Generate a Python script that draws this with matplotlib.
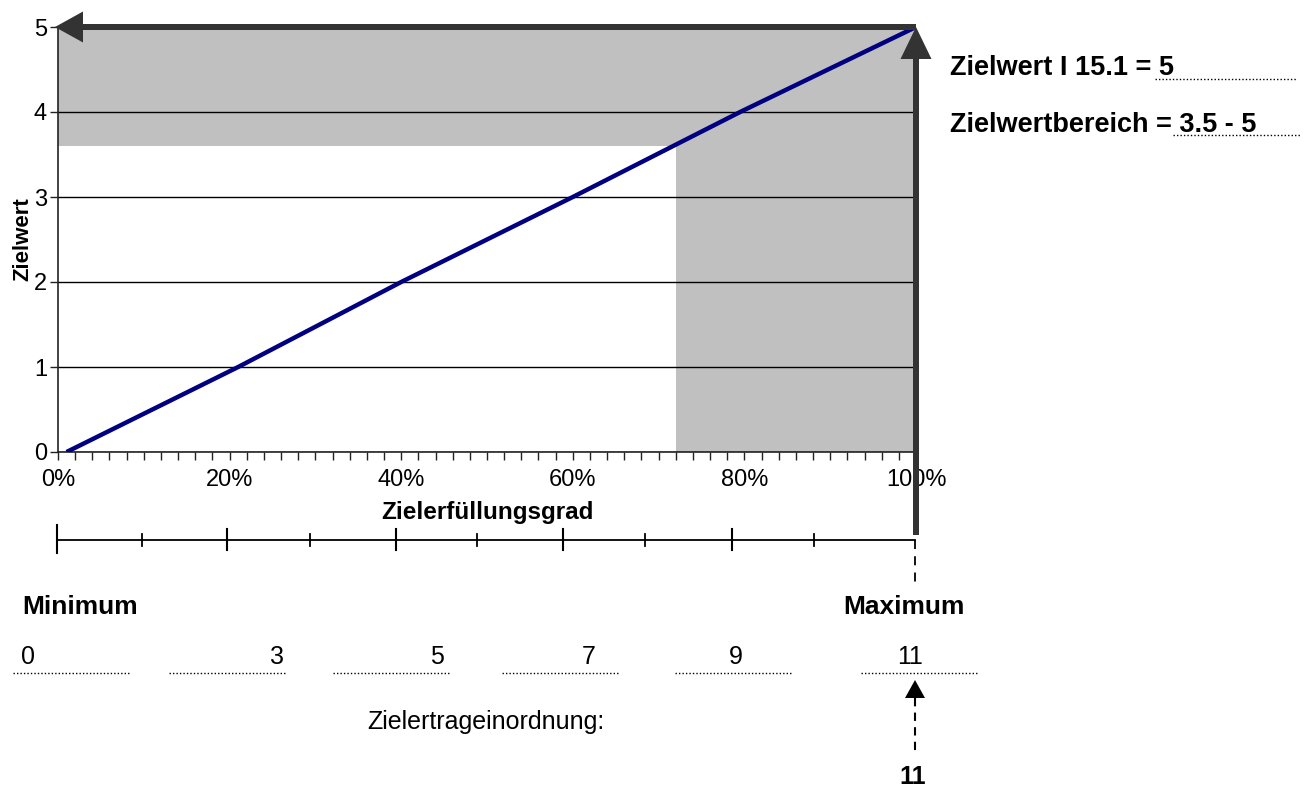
import matplotlib
matplotlib.use("Agg")
import matplotlib.pyplot as plt
from matplotlib.patches import FancyArrow, Polygon

plt.rcParams['font.family'] = ['Liberation Sans', 'DejaVu Sans']

# chart data
fulfil_pct = [1, 21, 40, 60, 79.5, 100]
target_val = [0, 1, 2, 3, 4, 5]
x_ticks = [0, 20, 40, 60, 80, 100]
x_ticklabels = ['0%', '20%', '40%', '60%', '80%', '100%']
y_ticks = [0, 1, 2, 3, 4, 5]
range_lo = 3.6      # lower edge of the grey target band
range_x = 72        # fulfilment % where grey column starts
scale_values = ['0', '3', '5', '7', '9', '11']
result_value = '11'

W, H = 1309, 789
fig = plt.figure(figsize=(W / 100, H / 100), dpi=100)

ax = fig.add_axes([58 / W, 1 - 452 / H, (916 - 58) / W, (452 - 27) / H])
ax.set_xlim(0, 100)
ax.set_ylim(0, 5)
ax.fill_between([0, 100], [range_lo, range_lo], [5, 5], color='#c0c0c0', lw=0, zorder=1)
ax.fill_between([range_x, 100], [0, 0], [5, 5], color='#c0c0c0', lw=0, zorder=1)
ax.plot(fulfil_pct, target_val, color='#000080', lw=3.2, zorder=3, solid_capstyle='butt')

ax.set_yticks(y_ticks)
ax.set_xticks(x_ticks)
ax.set_xticklabels(x_ticklabels)
ax.set_xticks(range(0, 101, 2), minor=True)
ax.yaxis.grid(True, color='black', lw=1)
ax.tick_params(axis='both', which='both', direction='out', length=6, width=1,
               color='#222222', labelsize=17)
ax.tick_params(axis='x', pad=6)
ax.tick_params(axis='y', pad=2)
for s in ['top', 'right']:
    ax.spines[s].set_visible(False)
for s in ['left', 'bottom']:
    ax.spines[s].set_color('#222222')
    ax.spines[s].set_linewidth(1.2)
ax.set_xlabel('Zielerfüllungsgrad', fontsize=17.5, fontweight='bold')
ax.set_ylabel('Zielwert', fontsize=16, fontweight='bold')
ax.yaxis.set_label_coords(-35 / (916 - 58), 0.5)
ax.xaxis.set_label_coords(0.5, -(513 - 452) / (452 - 27))
ax.xaxis.label.set_va('center')
ax.yaxis.label.set_va('center')

# overlay in pixel coordinates for the decorations
ov = fig.add_axes([0, 0, 1, 1], zorder=5)
ov.set_xlim(0, W)
ov.set_ylim(H, 0)
ov.axis('off')
ov.patch.set_alpha(0)

dark = '#333333'
ov.add_patch(FancyArrow(916, 27, -861, 0, width=6, head_width=31, head_length=28,
                        length_includes_head=True, color=dark, lw=0))
ov.add_patch(FancyArrow(916, 535, 0, -508, width=6, head_width=31, head_length=32,
                        length_includes_head=True, color=dark, lw=0))

# Zielwert info
ov.text(950, 68, 'Zielwert I 15.1 = 5', fontsize=19.5, fontweight='bold', va='center')
ov.text(950, 125, 'Zielwertbereich = 3.5 - 5', fontsize=19.5, fontweight='bold', va='center')
dot = dict(color='black', lw=1, linestyle=(0, (1, 1.5)))
ov.plot([1155, 1297], [79, 79], **dot)
ov.plot([1173, 1300], [135, 135], **dot)

# scale bar below the axis
ov.plot([57, 915], [540, 540], color='black', lw=1.3)
ov.plot([57, 57], [525, 553], color='black', lw=1.5)
for x in [227, 396, 563, 732]:
    ov.plot([x, x], [529, 550], color='black', lw=1.5)
for x in [142, 310, 477, 645, 814]:
    ov.plot([x, x], [534, 546], color='black', lw=1.3)
ov.plot([915, 915], [540, 586], color='black', lw=1.3, linestyle=(0, (5, 4)))

ov.text(22, 607, 'Minimum', fontsize=19, fontweight='bold', va='center')
ov.text(904, 607, 'Maximum', fontsize=19, fontweight='bold', va='center', ha='center')

# scale values with dotted underlines
lines = [(13, 130), (169, 286), (333, 451), (502, 619), (675, 792), (861, 978)]
label_x = [21, 284, 444, 596, 736, 910]
label_ha = ['left', 'right', 'right', 'right', 'center', 'center']
for v, (a, b), lx, ha in zip(scale_values, lines, label_x, label_ha):
    ov.plot([a, b], [673, 673], **dot)
    ov.text(lx, 657, v, fontsize=18, va='center', ha=ha)

ov.text(367, 722, 'Zielertrageinordnung:', fontsize=18, va='center', ha='left')

ov.add_patch(Polygon([[905, 698], [925, 698], [915, 680]], closed=True, color='black', lw=0))
ov.plot([915, 915], [698, 756], color='black', lw=1.5, linestyle=(0, (4, 3)))
ov.text(913, 777, result_value, fontsize=18, fontweight='bold', va='center', ha='center')

fig.savefig('out.png', dpi=100)
